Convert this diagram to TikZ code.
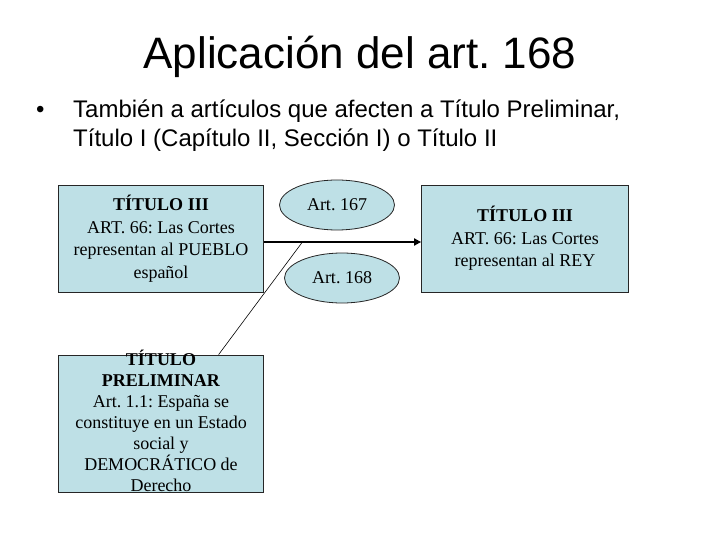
\documentclass[tikz,border=0pt]{standalone}
\usepackage{fontspec}
\setmainfont{Liberation Serif}
\newfontfamily\arial{Liberation Sans}
\usetikzlibrary{shapes.geometric,calc,arrows.meta}
\definecolor{boxblue}{RGB}{190,224,230}
\frenchspacing
\tikzset{
  box/.style={draw=black!85, fill=boxblue, line width=0.8pt, minimum width=205pt, minimum height=107pt, inner sep=0pt},
  art/.style={ellipse, draw=black!85, fill=boxblue, line width=0.8pt, minimum width=115pt, minimum height=50pt, inner sep=0pt, font=\fontsize{18}{20}\selectfont},
  boxtext/.style={align=center, inner sep=0pt, font=\fontsize{18}{22.5}\selectfont},
  bullettext/.style={anchor=base west, inner sep=0pt, font=\arial\fontsize{24}{29}\selectfont},
}
\begin{document}
\begin{tikzpicture}[x=1pt, y=-1pt]
  \useasboundingbox[fill=white] (0,0) rectangle (720,540);

  \node[anchor=base, font=\arial\fontsize{44}{50}\selectfont] (title) at (360,69) {Aplicación del art. 168};
  \node[bullettext] (dot) at (36,118) {•};
  \node[bullettext] (line1) at (73,118) {También a artículos que afecten a Título Preliminar,};
  \node[bullettext] (line2) at (73,147) {Título I (Capítulo II, Sección I) o Título II};

  % boxes
  \node[box] (t3) at (161,238.5) {};
  \node[boxtext] at (t3) {\textbf{TÍTULO III}\\ART. 66: Las Cortes\\representan al PUEBLO\\español};
  \node[box, minimum width=207pt] (rey) at (525,238.5) {};
  \node[boxtext] at (rey) {\textbf{TÍTULO III}\\ART. 66: Las Cortes\\representan al REY};
  \node[box, minimum height=137pt] (pre) at (161,423.5) {};
  \node[boxtext, font=\fontsize{18}{21}\selectfont] at ([yshift=2.5pt]pre.center) {\textbf{TÍTULO}\\\textbf{PRELIMINAR}\\Art. 1.1: España se\\constituye en un Estado\\social y\\DEMOCRÁTICO de\\Derecho};

  \node[art] (a167) at (337,205) {Art. 167};
  \node[art] (a168) at (342,278) {Art. 168};

  \draw[-{Triangle[length=7pt,width=7pt]}, line width=2pt] ([yshift=-3.5pt]t3.east) -- ([yshift=-3.5pt]rey.west);
  \coordinate (join) at ($([yshift=-3.5pt]t3.east)!0.245!([yshift=-3.5pt]rey.west)$);
  \draw[line width=0.6pt] ($(pre.north west)!0.78!(pre.north east)$) -- (join);
\end{tikzpicture}
\end{document}
